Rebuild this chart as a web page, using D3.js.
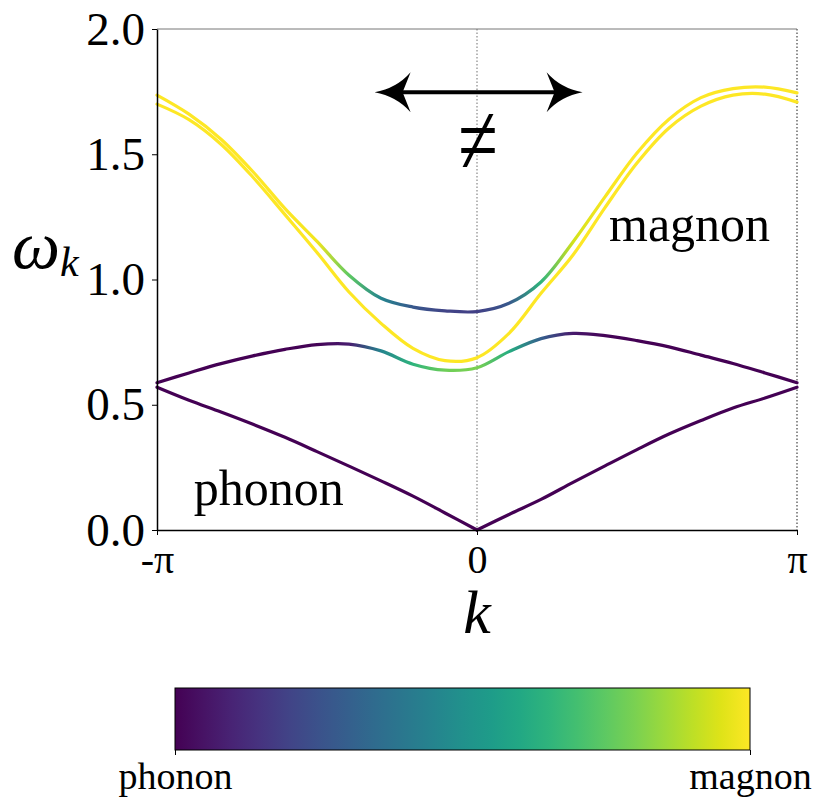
<!DOCTYPE html>
<html>
<head>
<meta charset="utf-8">
<script src="https://cdnjs.cloudflare.com/ajax/libs/d3/7.8.5/d3.min.js"></script>
<style>
  body { margin: 0; background: #fff; }
  svg text { font-family: "Liberation Serif", "Times New Roman", serif; fill: #000; }
</style>
</head>
<body>
<div class="bandChart"></div>
<script>
// k in units of pi
const kOverPi = [-1, -0.9, -0.8, -0.7, -0.6, -0.5, -0.4, -0.3, -0.2, -0.1, 0,
                 0.1, 0.2, 0.3, 0.4, 0.5, 0.6, 0.7, 0.8, 0.9, 1];

// four bands
const phononLow  = [0.570, 0.518, 0.471, 0.422, 0.370, 0.313, 0.255, 0.196, 0.135, 0.068, 0.000,
                    0.062, 0.122, 0.190, 0.256, 0.321, 0.383, 0.437, 0.487, 0.527, 0.570];
const bandTwo    = [0.588, 0.627, 0.664, 0.695, 0.721, 0.740, 0.742, 0.715, 0.662, 0.638, 0.648,
                    0.712, 0.764, 0.785, 0.776, 0.756, 0.731, 0.698, 0.665, 0.627, 0.588];
const bandThree  = [1.736, 1.660, 1.560, 1.430, 1.283, 1.152, 1.017, 0.925, 0.890, 0.875, 0.872,
                    0.905, 0.990, 1.150, 1.330, 1.505, 1.640, 1.726, 1.762, 1.768, 1.745];
const magnonHigh = [1.700, 1.638, 1.540, 1.408, 1.259, 1.108, 0.950, 0.825, 0.725, 0.676, 0.688,
                    0.785, 0.945, 1.098, 1.287, 1.465, 1.605, 1.692, 1.736, 1.740, 1.708];

// magnon weight of each band (colour)
const phononLowWeight  = [0, 0, 0, 0, 0, 0, 0, 0, 0, 0, 0, 0, 0, 0, 0, 0, 0, 0, 0, 0, 0];
const bandTwoWeight    = [0, 0, 0, 0, 0, 0.01, 0.08, 0.45, 0.65, 0.78, 0.8,
                          0.62, 0.3, 0.07, 0.01, 0, 0, 0, 0, 0, 0];
const bandThreeWeight  = [1, 1, 1, 1, 1, 0.98, 0.75, 0.45, 0.27, 0.2, 0.19,
                          0.27, 0.65, 0.93, 0.99, 1, 1, 1, 1, 1, 1];
const magnonHighWeight = [1, 1, 1, 1, 1, 1, 1, 1, 1, 1, 1, 1, 1, 1, 1, 1, 1, 1, 1, 1, 1];

const yTicks = [0, 0.5, 1.0, 1.5, 2.0];
const xTicksOverPi = [-1, 0, 1];
const xTickLabels = ['-π', '0', 'π'];
const colorbarLabels = ['phonon', 'magnon'];

// annotation anchors (data coords)
const arrowEnds = [-0.32, 0.33];   // k / pi
const arrowOmega = 1.748;
const neqAt = [0, 1.423];
const magnonLabelAt = [0.4125, 1.152];
const phononLabelAt = [-0.885, 0.10];

const margin = ({top: 29, right: 26, bottom: 280, left: 157});
const width = 823 - margin.left - margin.right;
const height = 810 - margin.top - margin.bottom;

const svg = d3.select('.bandChart')
              .append('svg')
              .attr('width', 823)
              .attr('height', 810);

const defs = svg.append('defs');

const g = svg.append('g')
             .attr('transform', `translate(${margin.left}, ${margin.top})`);

const xScale = d3.scaleLinear()
                 .domain([-Math.PI, Math.PI])
                 .range([0, width]);

const yScale = d3.scaleLinear()
                 .domain([0, 2])
                 .range([height, 0]);

const color = d3.scaleSequential(d3.interpolateViridis).domain([0, 1]);

// reference lines at k = 0 and k = pi
[0, 1].forEach(kp => {
    g.append('line')
     .attr('x1', xScale(kp * Math.PI)).attr('x2', xScale(kp * Math.PI))
     .attr('y1', 0).attr('y2', height)
     .attr('stroke', kp === 0 ? '#888' : '#444')
     .attr('stroke-width', 1.2)
     .attr('stroke-dasharray', '1.5,2');
});

// top spine
g.append('line')
 .attr('x1', 0).attr('x2', width)
 .attr('y1', 0).attr('y2', 0)
 .attr('stroke', '#777')
 .attr('stroke-width', 1);

const smooth = d3.curveCatmullRom.alpha(0.5);
const toPoints = (vals) => kOverPi.map((kp, i) => ({k: kp * Math.PI, w: vals[i]}));

// the acoustic branch has a cusp at k = 0, so draw its two halves separately
const bands = [
    {name: 'phononLow', values: phononLow, weights: phononLowWeight,
     pieces: [toPoints(phononLow).slice(0, 11), toPoints(phononLow).slice(10)]},
    {name: 'bandTwo', values: bandTwo, weights: bandTwoWeight, pieces: [toPoints(bandTwo)]},
    {name: 'bandThree', values: bandThree, weights: bandThreeWeight, pieces: [toPoints(bandThree)]},
    {name: 'magnonHigh', values: magnonHigh, weights: magnonHighWeight, pieces: [toPoints(magnonHigh)]}
];

const line = d3.line()
               .x(d => xScale(d.k))
               .y(d => yScale(d.w))
               .curve(smooth);

bands.forEach(b => {
    const grad = defs.append('linearGradient')
                     .attr('id', 'grad-' + b.name)
                     .attr('gradientUnits', 'userSpaceOnUse')
                     .attr('x1', 0).attr('x2', width)
                     .attr('y1', 0).attr('y2', 0);
    grad.selectAll('stop')
        .data(kOverPi)
        .enter()
        .append('stop')
        .attr('offset', d => xScale(d * Math.PI) / width)
        .attr('stop-color', (d, i) => color(b.weights[i]));

    b.pieces.forEach(p => {
        g.append('path')
         .datum(p)
         .attr('d', line)
         .attr('fill', 'none')
         .attr('stroke', `url(#grad-${b.name})`)
         .attr('stroke-width', 3.2)
         .attr('stroke-linecap', 'round');
    });
});

// axes
const yAxis = d3.axisLeft(yScale)
                .tickValues(yTicks)
                .tickFormat(d3.format('.1f'))
                .tickSize(5)
                .tickSizeOuter(0)
                .tickPadding(7);

const xAxis = d3.axisBottom(xScale)
                .tickValues(xTicksOverPi.map(d => d * Math.PI))
                .tickFormat((d, i) => xTickLabels[i])
                .tickSize(5)
                .tickSizeOuter(0)
                .tickPadding(10);

const yg = g.append('g').attr('class', 'axis y-axis').call(yAxis);
const xg = g.append('g').attr('class', 'axis x-axis')
            .attr('transform', `translate(0, ${height})`)
            .call(xAxis);

[yg, xg].forEach(a => {
    a.attr('font-family', null);
    a.select('.domain').attr('stroke', '#000').attr('stroke-width', 1.5);
    a.selectAll('.tick line').attr('stroke', '#000').attr('stroke-width', 1);
});
yg.selectAll('text').style('font-size', '47px');
xg.selectAll('text').style('font-size', '40px');

// axis labels
g.append('text')
 .attr('x', xScale(0))
 .attr('y', height + 103)
 .attr('text-anchor', 'middle')
 .style('font-size', '62px')
 .style('font-style', 'italic')
 .text('k');

const wl = svg.append('text')
              .attr('x', 12)
              .attr('y', 268)
              .style('font-style', 'italic');
wl.append('tspan').style('font-size', '68px').text('ω');
wl.append('tspan').attr('dy', 8).style('font-size', '42px').text('k');

// annotations
g.append('text')
 .attr('x', xScale(magnonLabelAt[0] * Math.PI))
 .attr('y', yScale(magnonLabelAt[1]))
 .style('font-size', '50px')
 .text('magnon');

g.append('text')
 .attr('x', xScale(phononLabelAt[0] * Math.PI))
 .attr('y', yScale(phononLabelAt[1]))
 .style('font-size', '50px')
 .text('phonon');

// double-headed arrow
const ay = yScale(arrowOmega);
const ax0 = xScale(arrowEnds[0] * Math.PI);
const ax1 = xScale(arrowEnds[1] * Math.PI);
g.append('line')
 .attr('x1', ax0 + 20).attr('x2', ax1 - 20)
 .attr('y1', ay).attr('y2', ay)
 .attr('stroke', '#000')
 .attr('stroke-width', 4);

function arrowHead(tip, dir) {
    const L = 36, H = 20, N = 28;
    return `M${tip},${ay}` +
           `Q${tip + dir * 22},${ay - 4} ${tip + dir * L},${ay - H}` +
           `L${tip + dir * N},${ay}` +
           `L${tip + dir * L},${ay + H}` +
           `Q${tip + dir * 22},${ay + 4} ${tip},${ay}Z`;
}
g.append('path').attr('d', arrowHead(ax0, 1)).attr('fill', '#000');
g.append('path').attr('d', arrowHead(ax1, -1)).attr('fill', '#000');

// tall thin "not equal" sign
g.append('g')
 .attr('transform', `translate(${xScale(neqAt[0]) + 1}, ${yScale(neqAt[1])}) scale(1, 1.4)`)
 .append('text')
 .attr('text-anchor', 'middle')
 .style('font-size', '72px')
 .text('≠');

// colorbar
const cbX = d3.scaleLinear().domain([0, 1]).range([175, 750]);
const cbTop = 688, cbH = 62;

const cbGrad = defs.append('linearGradient')
                   .attr('id', 'cbGrad')
                   .attr('x1', '0%').attr('x2', '100%')
                   .attr('y1', '0%').attr('y2', '0%');
cbGrad.selectAll('stop')
      .data(d3.range(0, 1.0001, 0.05))
      .enter()
      .append('stop')
      .attr('offset', d => d)
      .attr('stop-color', d => color(d));

svg.append('rect')
   .attr('x', cbX(0)).attr('y', cbTop)
   .attr('width', cbX(1) - cbX(0)).attr('height', cbH)
   .attr('fill', 'url(#cbGrad)')
   .attr('stroke', '#000')
   .attr('stroke-width', 1);

const cbAxis = d3.axisBottom(cbX)
                 .tickValues([0, 1])
                 .tickFormat((d, i) => colorbarLabels[i])
                 .tickSize(5)
                 .tickSizeOuter(0)
                 .tickPadding(7);
const cbg = svg.append('g')
               .attr('transform', `translate(0, ${cbTop + cbH})`)
               .call(cbAxis);
cbg.attr('font-family', null);
cbg.select('.domain').remove();
cbg.selectAll('.tick line').attr('stroke', '#000');
cbg.selectAll('text').style('font-size', '38px');
</script>
</body>
</html>
